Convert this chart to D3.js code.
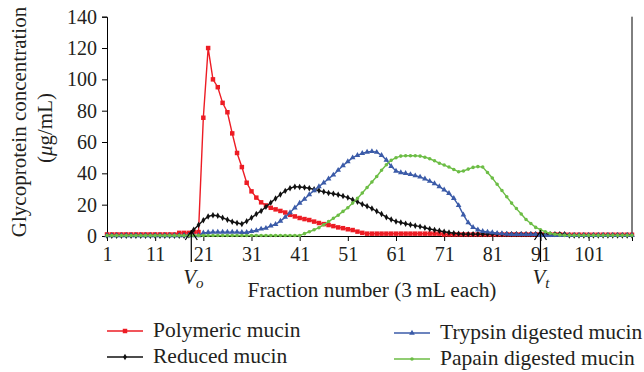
<!DOCTYPE html>
<html><head><meta charset="utf-8">
<script src="https://cdn.jsdelivr.net/npm/d3@7"></script>
<style>
html,body{margin:0;padding:0;background:#fff;}
svg{display:block;}
text{font-family:"Liberation Serif","Times New Roman",serif;fill:#231f20;}
</style></head>
<body>
<script>
// ---------- data ----------
const fractions = d3.range(1, 111);
const xTickLabels = [1, 11, 21, 31, 41, 51, 61, 71, 81, 91, 101];
const yTickLabels = [0, 20, 40, 60, 80, 100, 120, 140];
const seriesNames = ["Polymeric mucin", "Reduced mucin", "Trypsin digested mucin", "Papain digested mucin"];
const markerVo = 18.5, markerVt = 91;

const polymeric = [
  1,1,1,1,1,1,1,1,1,1, 1,1,1,1,1,2,2,2,2.5,2.5,
  75.5,120,100,95,85,79,65.5,53,44,34, 28.5,24.5,21.5,19.5,18,17,16,15,13.5,12.5,
  11.5,10.8,10.2,9.2,8.3,7.6,7,6.3,5.5,5, 4.3,3.8,2.8,2,1.5,1.5,1.5,1.5,1.5,1.5,
  1.5,1.5,1.5,1.5,1.5,1.5,1.5,1.5,1.5,1.5, 1,1,1,1,1,1,1,1,1,1,
  1,1,1,1,1,1,1,1,1,1, 1,1,1,1,1,0.8,0.8,0.8,0.8,0.8,
  0.8,0.8,0.8,0.8,0.8,0.8,0.8,0.8,0.8,0.8
];
const reduced = [
  0.2,0.2,0.2,0.2,0.2,0.2,0.2,0.2,0.2,0.2, 0.2,0.2,0.2,0.2,0.2,0.2,0.2,0.5,4,7,
  10,12.5,13.2,12.9,11.6,10.4,9.1,8.3,7.7,9.4, 11.6,14,16,18.6,21.3,23.9,26.5,28.8,30.5,31.5,
  31.3,31,30.5,29.8,29,28.2,27.5,27,26.3,25.5, 24.5,23.2,21.8,20.3,19,17.5,15.8,14,12,10.5,
  9.3,8.6,7.8,7.2,6.6,6,5.3,4.5,3.9,3.3, 2.7,2.2,1.8,1.5,1.2,1.2,1.2,1.2,1.2,1.2,
  1.2,1.2,1.2,1.2,1.2,1.2,1.2,1.2,1.2,1.2, 1.2,1.2,1.2,1.2,1.2,1.2,0.3,0.3,0.3,0.3,
  0.3,0.3,0.3,0.3,0.3,0.3,0.3,0.3,0.3,0.3
];
const trypsin = [
  0.3,0.3,0.3,0.3,0.3,0.3,0.3,0.3,0.3,0.3, 0.3,0.3,0.3,0.3,0.3,0.3,0.3,0.3,0.3,0.3,
  2,2.3,2.5,2.5,2.5,2.5,2.5,2.5,2.3,2.3, 3,3.5,4.5,5,6.5,7.5,9.5,12,15,18,
  21,23.5,26.5,29,31.5,34,36.5,39,42,45, 47.5,50,51.5,52.8,53.6,54,53.5,51.5,48.5,44.5,
  41.5,40.5,40,39.3,38.5,37.7,36.5,35,33.5,31.5, 29.5,27.2,24,19.5,13.5,8.5,5.5,4,3,2.6,
  2.2,1.8,1.5,1.2,1,1,1,1,1,1, 0.4,0.4,0.4,0.4,0.4,0.4,0.4,0.4,0.4,0.4,
  0.4,0.4,0.4,0.4,0.4,0.4,0.4,0.4,0.4,0.4
];
const papain = [
  0.3,0.3,0.3,0.3,0.3,0.3,0.3,0.3,0.3,0.3, 0.3,0.3,0.3,0.3,0.3,0.3,0.3,0.3,0.3,0.3,
  0.3,0.3,0.3,0.3,0.3,0.3,0.3,0.3,0.3,0.3, 0.3,0.3,0.3,0.3,0.3,0.3,0.3,0.3,0.3,0.3,
  0.3,1.5,2.7,4,5.3,7.2,9.2,11.3,13.3,15.7, 18,21,24,27.5,31,34.5,38,42,45.5,48.3,
  50,51,51.2,51.2,51.2,51,50.3,49.3,48,46.5, 45.3,44,42.5,41,41.5,42.7,43.8,44.3,44,40.5,
  37,33,29,25,21,17.5,14,10.5,8,5.5, 4,2.7,1.7,1.1,0.7,0.4,0.4,0.4,0.4,0.4,
  0.4,0.4,0.4,0.4,0.4,0.4,0.4,0.4,0.4,0.4
];
const seriesValues = [polymeric, reduced, trypsin, papain];
const seriesColors = ["#ed1c24", "#111111", "#3b5ba8", "#6cbd45"];
const seriesMarkers = [d3.symbolSquare, d3.symbolDiamond, d3.symbolTriangle, d3.symbolCircle];
const markerSizes = [20, 12, 14, 10];

// ---------- chart ----------
const W = 644, H = 372;
const svg = d3.select("body").append("svg").attr("width", W).attr("height", H);

const x = d3.scaleLinear().domain([1, 110]).range([107, 632]);
const y = d3.scaleLinear().domain([0, 140]).range([236, 16.7]);

// plot border (right)
svg.append("line").attr("x1", 632).attr("x2", 632).attr("y1", y(140)).attr("y2", y(0))
  .attr("stroke", "#000").attr("stroke-width", 1);

const yAxis = svg.append("g").attr("transform", `translate(${x(1)},0)`)
  .call(d3.axisLeft(y).tickValues(yTickLabels).tickSize(5).tickPadding(5));
yAxis.select(".domain").attr("stroke", "#000");
yAxis.selectAll("text").style("font-size", "20px").attr("fill", "#231f20")
  .style("font-family", "Liberation Serif");

const xAxis = svg.append("g").attr("transform", `translate(0,${y(0)})`)
  .call(d3.axisBottom(x).tickValues(xTickLabels).tickSize(5).tickPadding(6).tickFormat(d3.format("d")));
xAxis.select(".domain").attr("stroke", "#000");
xAxis.selectAll("text").style("font-size", "20px").attr("fill", "#231f20")
  .style("font-family", "Liberation Serif");

// series
const line = d3.line().x((d, i) => x(fractions[i])).y(d => y(d));
seriesValues.forEach((vals, k) => {
  const g = svg.append("g");
  g.append("path").datum(vals).attr("d", line).attr("fill", "none")
    .attr("stroke", seriesColors[k]).attr("stroke-width", 1.4);
  g.selectAll("path.m").data(vals).enter().append("path").attr("class", "m")
    .attr("transform", (d, i) => `translate(${x(fractions[i])},${y(d)})`)
    .attr("d", d3.symbol().type(seriesMarkers[k]).size(markerSizes[k]))
    .attr("fill", seriesColors[k]);
});

// Vo / Vt arrows
[[markerVo, "o"], [markerVt, "t"]].forEach(([f, sub]) => {
  const cx = x(f);
  svg.append("line").attr("x1", cx).attr("x2", cx).attr("y1", 230).attr("y2", 262)
    .attr("stroke", "#000").attr("stroke-width", 1.2);
  svg.append("path").attr("d", `M${cx - 6},${240} L${cx},${231} L${cx + 6},${240}`)
    .attr("fill", "none").attr("stroke", "#000").attr("stroke-width", 1.2);
  const t = svg.append("text").attr("x", cx - 8).attr("y", 284).style("font-size", "21px")
    .style("font-style", "italic");
  t.append("tspan").text("V");
  t.append("tspan").attr("dy", 4).style("font-size", "15px").text(sub);
});

// axis titles
svg.append("text").attr("x", 372).attr("y", 297).attr("text-anchor", "middle")
  .style("font-size", "21.3px").text("Fraction number (3\u2009mL each)");
svg.append("text").attr("transform", "translate(26,122) rotate(-90)")
  .attr("text-anchor", "middle").style("font-size", "21px").text("Glycoprotein concentration");
const yt2 = svg.append("text").attr("transform", "translate(52,128) rotate(-90)")
  .attr("text-anchor", "middle").style("font-size", "21px");
yt2.append("tspan").text("(");
yt2.append("tspan").style("font-style", "italic").text("\u03bc");
yt2.append("tspan").text("g/mL)");

// legend
const legendPos = [[107, 331], [107, 357], [394, 333], [394, 359]];
seriesNames.forEach((name, k) => {
  const [lx, ly] = legendPos[k];
  svg.append("line").attr("x1", lx).attr("x2", lx + 36).attr("y1", ly).attr("y2", ly)
    .attr("stroke", seriesColors[k]).attr("stroke-width", 1.4);
  svg.append("path").attr("transform", `translate(${lx + 18},${ly})`)
    .attr("d", d3.symbol().type(seriesMarkers[k]).size(markerSizes[k])).attr("fill", seriesColors[k]);
  svg.append("text").attr("x", lx + 46).attr("y", ly + 6).style("font-size", "21.5px").text(name);
});
</script>
</body></html>
